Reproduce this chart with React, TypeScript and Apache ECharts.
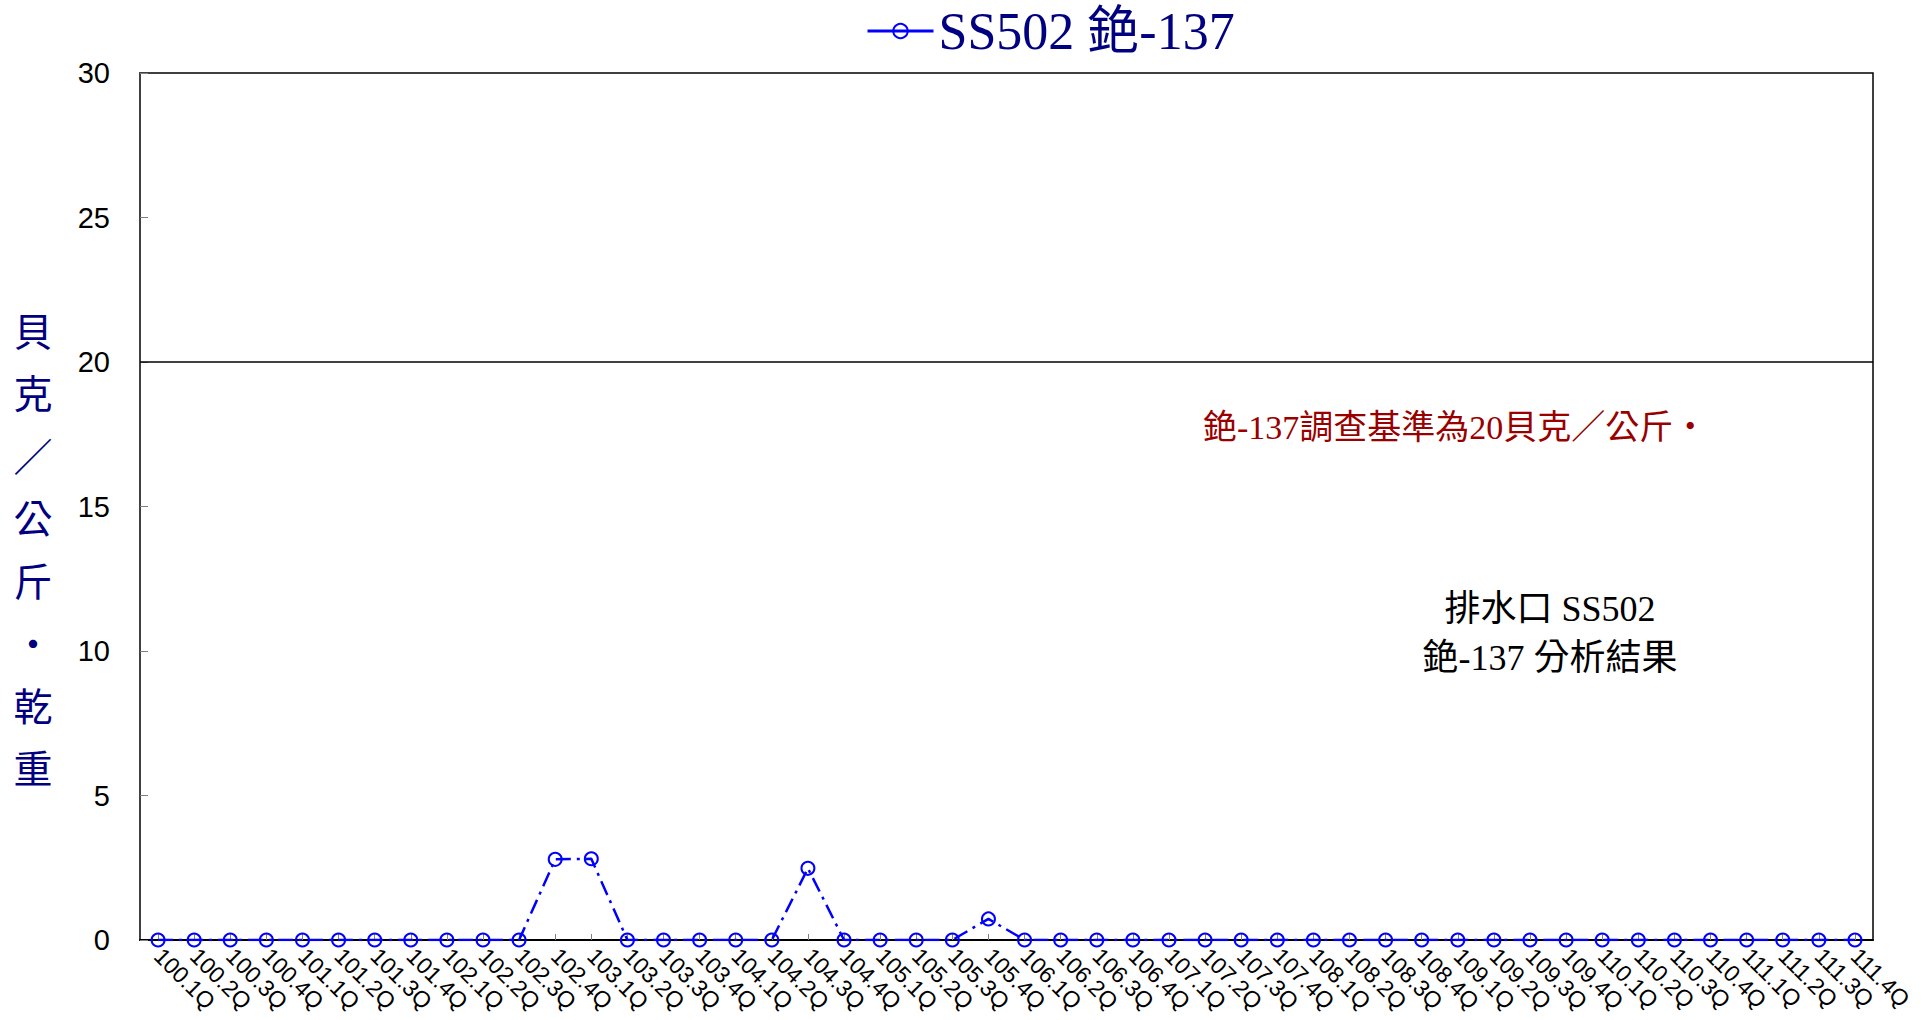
import React, { useEffect, useRef } from "react";
import * as echarts from "echarts";

const categories = [
  "100.1Q", "100.2Q", "100.3Q", "100.4Q",
  "101.1Q", "101.2Q", "101.3Q", "101.4Q",
  "102.1Q", "102.2Q", "102.3Q", "102.4Q",
  "103.1Q", "103.2Q", "103.3Q", "103.4Q",
  "104.1Q", "104.2Q", "104.3Q", "104.4Q",
  "105.1Q", "105.2Q", "105.3Q", "105.4Q",
  "106.1Q", "106.2Q", "106.3Q", "106.4Q",
  "107.1Q", "107.2Q", "107.3Q", "107.4Q",
  "108.1Q", "108.2Q", "108.3Q", "108.4Q",
  "109.1Q", "109.2Q", "109.3Q", "109.4Q",
  "110.1Q", "110.2Q", "110.3Q", "110.4Q",
  "111.1Q", "111.2Q", "111.3Q", "111.4Q",
];

const cs137Values = [
  0, 0, 0, 0,
  0, 0, 0, 0,
  0, 0, 0, 2.79,
  2.81, 0, 0, 0,
  0, 0, 2.48, 0,
  0, 0, 0, 0.73,
  0, 0, 0, 0,
  0, 0, 0, 0,
  0, 0, 0, 0,
  0, 0, 0, 0,
  0, 0, 0, 0,
  0, 0, 0, 0,
];

const seriesName = "SS502 銫-137";
const standardValue = 20;
const yTicks = { min: 0, max: 30, interval: 5 };
const yAxisName = ["貝", "克", "／", "公", "斤", "‧", "乾", "重"];
const standardNote = "銫-137調查基準為20貝克／公斤‧";
const resultNote = ["排水口 SS502", "銫-137 分析結果"];

const SERIF = '"Liberation Serif", "Noto Sans CJK TC", serif';
const SANS = '"Liberation Sans", Arial, sans-serif';

export default function App() {
  const ref = useRef<HTMLDivElement>(null);

  useEffect(() => {
    if (!ref.current) return;
    const chart = echarts.init(ref.current, null, { renderer: "svg" });
    chart.setOption({
      animation: false,
      backgroundColor: "#ffffff",
      grid: {
        left: 140,
        right: 54,
        top: 73,
        bottom: 80,
        containLabel: false,
        outerBoundsMode: "none",
        show: true,
        borderColor: "#000000",
        borderWidth: 1.5,
      },
      legend: {
        data: [seriesName],
        left: 866,
        top: 5,
        padding: 0,
        itemWidth: 66,
        itemHeight: 18,
        lineStyle: { type: "solid", width: 3 },
        textStyle: {
          fontFamily: SERIF,
          fontSize: 52,
          color: "#000080",
        },
      },
      xAxis: {
        type: "category",
        data: categories,
        boundaryGap: true,
        axisLine: { show: true, lineStyle: { color: "#000000", width: 2 } },
        axisTick: {
          show: true,
          alignWithLabel: true,
          inside: true,
          length: 6,
          lineStyle: { color: "#808080", width: 1 },
        },
        axisLabel: {
          interval: 0,
          rotate: -45,
          margin: 12,
          fontFamily: SANS,
          fontSize: 23,
          color: "#000000",
        },
        splitLine: { show: false },
      },
      yAxis: {
        type: "value",
        min: yTicks.min,
        max: yTicks.max,
        interval: yTicks.interval,
        axisLine: { show: true, lineStyle: { color: "#404040", width: 2 } },
        axisTick: {
          show: true,
          inside: true,
          length: 8,
          lineStyle: { color: "#808080", width: 1 },
        },
        axisLabel: {
          margin: 30,
          fontFamily: SANS,
          fontSize: 29,
          color: "#000000",
        },
        splitLine: { show: false },
      },
      series: [
        {
          name: seriesName,
          type: "line",
          data: cs137Values,
          symbol: "circle",
          symbolSize: 13,
          showSymbol: true,
          lineStyle: { color: "#0000ff", width: 2.5, type: [15, 6, 3, 6] },
          itemStyle: { color: "rgba(255,255,255,0)", borderColor: "#0000ff", borderWidth: 2 },
          markLine: {
            silent: true,
            symbol: "none",
            label: { show: false },
            lineStyle: { color: "#000000", width: 1.5, type: "solid" },
            data: [{ yAxis: standardValue }],
          },
        },
      ],
      graphic: [
        {
          type: "text",
          x: 33,
          y: 551,
          style: {
            text: yAxisName.join("\n"),
            fontFamily: SERIF,
            fontSize: 39,
            lineHeight: 62.5,
            fill: "#000080",
            align: "center",
            verticalAlign: "middle",
          },
        },
        {
          type: "text",
          x: 1203,
          y: 427,
          style: {
            text: standardNote,
            fontFamily: SERIF,
            fontSize: 34,
            fill: "#990000",
            align: "left",
            verticalAlign: "middle",
          },
        },
        {
          type: "text",
          x: 1550,
          y: 609,
          style: {
            text: resultNote[0],
            fontFamily: SERIF,
            fontSize: 36,
            fill: "#000000",
            align: "center",
            verticalAlign: "middle",
          },
        },
        {
          type: "text",
          x: 1550,
          y: 658,
          style: {
            text: resultNote[1],
            fontFamily: SERIF,
            fontSize: 36,
            fill: "#000000",
            align: "center",
            verticalAlign: "middle",
          },
        },
      ],
    });
    return () => chart.dispose();
  }, []);

  return (
    <div
      ref={ref}
      style={{ position: "fixed", left: 0, top: 0, width: 1927, height: 1020 }}
    />
  );
}
